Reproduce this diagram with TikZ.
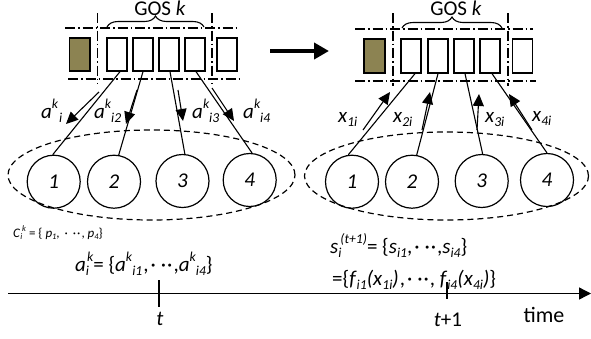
\documentclass[tikz,border=0pt]{standalone}
\usepackage{fontspec}
\setmainfont{Carlito}
\usetikzlibrary{arrows.meta,decorations.pathreplacing,shapes.geometric}
\definecolor{olivec}{RGB}{140,131,82}
\newcommand\mysup[1]{\raisebox{0.45em}{\scalebox{0.65}{#1}}}
\newcommand\mysub[1]{\raisebox{-0.2em}{\scalebox{0.65}{#1}}}
\newcommand\mydots{\kern2pt\textperiodcentered\kern5pt\textperiodcentered\kern1pt\textperiodcentered\kern1pt}
\begin{document}
\begin{tikzpicture}[x=1pt,y=-1pt,
  slot/.style={draw, line width=1.3pt, minimum width=20pt, minimum height=33pt, inner sep=0pt},
  used/.style={slot, fill=olivec},
  guide/.style={line width=1.3pt, dash pattern=on 10pt off 3pt on 1.5pt off 3pt},
  agent/.style={draw, circle, line width=1.2pt, minimum size=53pt, inner sep=0pt, font=\fontsize{21}{24}\selectfont\itshape},
  group/.style={draw, ellipse, line width=1.2pt, dash pattern=on 6pt off 4pt, inner sep=0pt},
  link/.style={line width=1.1pt},
  msg/.style={line width=1.1pt, -{Triangle[length=12pt,width=11pt]}},
  lab/.style={font=\fontsize{21}{24}\selectfont\itshape, inner sep=0pt, anchor=base west},
  gos/.style={font=\fontsize{21}{24}\selectfont, inner sep=0pt},
  brc/.style={decorate, decoration={brace, amplitude=11pt}, line width=1.1pt}
]
\useasboundingbox (0,0) rectangle (591,338);

% ---------- left panel ----------
\node[used, minimum width=20.5pt] (lo) at (79.75,54.5) {};
\node[slot] (l1) at (117,54.5) {};
\node[slot] (l2) at (143,54.5) {};
\node[slot] (l3) at (169,54.5) {};
\node[slot] (l4) at (195,54.5) {};
\node[slot] (l5) at (227,54.5) {};
\coordinate (lv1a) at (97.7,13); \coordinate (lv1b) at (97.7,84);
\coordinate (lv2a) at (212,13); \coordinate (lv2b) at (212,84);
\coordinate (lh1a) at (65,28); \coordinate (lh1b) at (240,28);
\coordinate (lh2a) at (68,79); \coordinate (lh2b) at (243,79);
\draw[guide] (lv1a) -- (lv1b);
\draw[guide] (lv2a) -- (lv2b);
\draw[guide] (lh1a) -- (lh1b);
\draw[guide] (lh2a) -- (lh2b);
\coordinate (lbra) at (107,27); \coordinate (lbrb) at (204,27);
\draw[brc] (lbra) -- (lbrb);
\node[gos] (lgos) at (160,8.5) {GOS \textit{k}};

\node[group, minimum width=287pt, minimum height=90pt] (lg) at (151.5,175) {};
\node[agent] (lc1) at (53.7,181.7) {1};
\node[agent] (lc2) at (114,181.7) {2};
\node[agent] (lc3) at (182.5,181) {3};
\node[agent] (lc4) at (249.7,180) {4};
\draw[link] ([xshift=3pt]l1.south) -- (lc1.92);
\draw[link] (l2.south) -- (lc2.80);
\draw[link] ([xshift=1pt]l3.south) -- (lc3.85);
\draw[link] ([xshift=1pt]l4.south) -- (lc4.85);

\coordinate (la1t) at (99,92);  \coordinate (la1h) at (66,124);
\coordinate (la2t) at (137,90); \coordinate (la2h) at (126,124);
\coordinate (la3t) at (178,90); \coordinate (la3h) at (183,121);
\coordinate (la4t) at (212,88); \coordinate (la4h) at (234,121);
\draw[msg] (la1t) -- (la1h);
\draw[msg] (la2t) -- (la2h);
\draw[msg] (la3t) -- (la3h);
\draw[msg] (la4t) -- (la4h);
\node[lab] (lt1) at (41,118) {a\mysup{k}\kern1pt\mysub{i}};
\node[lab] (lt2) at (94,118) {a\mysup{k}\mysub{i2}};
\node[lab] (lt3) at (192,118) {a\mysup{k}\mysub{i3}};
\node[lab] (lt4) at (243,118) {a\mysup{k}\mysub{i4}};

% ---------- big arrow ----------
\coordinate (bga) at (270,51); \coordinate (bgb) at (329,51);
\draw[line width=4.5pt, -{Triangle[length=15pt,width=16pt]}] (bga) -- (bgb);

% ---------- right panel ----------
\node[used, minimum width=21pt, minimum height=34pt] (ro) at (374.5,56) {};
\node[slot, minimum height=34pt] (r1) at (411,56) {};
\node[slot, minimum height=34pt] (r2) at (438,56) {};
\node[slot, minimum height=34pt] (r3) at (464,56) {};
\node[slot, minimum height=34pt] (r4) at (490,56) {};
\node[slot, minimum height=34pt] (r5) at (522.5,56) {};
\coordinate (rv1a) at (393,13); \coordinate (rv1b) at (393,86);
\coordinate (rv2a) at (508,13); \coordinate (rv2b) at (508,86);
\coordinate (rh1a) at (355,29); \coordinate (rh1b) at (533,29);
\coordinate (rh2a) at (355,81); \coordinate (rh2b) at (536,81);
\draw[guide] (rv1a) -- (rv1b);
\draw[guide] (rv2a) -- (rv2b);
\draw[guide] (rh1a) -- (rh1b);
\draw[guide] (rh2a) -- (rh2b);
\coordinate (rbra) at (402,28); \coordinate (rbrb) at (502,28);
\draw[brc] (rbra) -- (rbrb);
\node[gos] (rgos) at (456,8.5) {GOS \textit{k}};

\node[group, minimum width=284pt, minimum height=88pt] (rg) at (446.5,176) {};
\node[agent] (rc1) at (352,181.7) {1};
\node[agent] (rc2) at (412,181.7) {2};
\node[agent] (rc3) at (481.7,181) {3};
\node[agent] (rc4) at (547,180) {4};
\draw[link] ([xshift=4pt]r1.south) -- (rc1.98);
\draw[link] (r2.south) -- (rc2.80);
\draw[link] ([xshift=1pt]r3.south) -- (rc3.88);
\draw[link] ([xshift=2pt]r4.south) -- (rc4.90);

\coordinate (rx1t) at (363,130); \coordinate (rx1h) at (390,92);
\coordinate (rx2t) at (422,130); \coordinate (rx2h) at (430,92);
\coordinate (rx3t) at (477,130); \coordinate (rx3h) at (479,94);
\coordinate (rx4t) at (532,130); \coordinate (rx4h) at (509,94);
\draw[msg] (rx1t) -- (rx1h);
\draw[msg] (rx2t) -- (rx2h);
\draw[msg] (rx3t) -- (rx3h);
\draw[msg] (rx4t) -- (rx4h);
\node[lab] (rt1) at (338,122) {x\mysub{1i}};
\node[lab] (rt2) at (393,122) {x\mysub{2i}};
\node[lab] (rt3) at (485,122) {x\mysub{3i}};
\node[lab] (rt4) at (532,121) {x\mysub{4i}};

% ---------- formulas ----------
\node[inner sep=0pt, anchor=base west, font=\fontsize{13}{15}\selectfont] (cset) at (13,237)
  {\textit{C}\mysub{\textit{i}}\mysup{\textit{k}} = \{ \textit{p}\mysub{\textit{1}}, \mydots, \textit{p}\mysub{\textit{4}}\}};
\node[lab, font=\fontsize{21}{24}\selectfont] (aset) at (75,271)
  {\textit{a}\mysub{\textit{i}}\kern-0.1em\mysup{\textit{k}}= \{\textit{a}\mysup{\textit{k}}\mysub{\textit{i1}}\kern1pt,\mydots,\textit{a}\mysup{\textit{k}}\mysub{\textit{i4}}\}};
\node[lab, font=\fontsize{21}{24}\selectfont] (sset) at (330,253)
  {\textit{s}\mysub{\textit{i}}\kern-0.05em\mysup{\textit{(t+1)}}= \{\textit{s}\mysub{\textit{i1}},\mydots,\textit{s}\mysub{\textit{i4}}\}};
\node[lab, font=\fontsize{21}{24}\selectfont] (fset) at (332,285)
  {=\{\textit{f}\mysub{\textit{i1}}\textit{(x}\mysub{\textit{1i}}\textit{)}\kern1pt,\mydots, \textit{f}\mysub{\textit{i4}}\textit{(x}\mysub{\textit{4i}}\textit{)}\}};

% ---------- time line ----------
\coordinate (tla) at (8,293.5); \coordinate (tlb) at (591,293.5);
\draw[line width=1.3pt, -{Triangle[length=12pt,width=12pt]}] (tla) -- (tlb);
\coordinate (tk1a) at (159,280); \coordinate (tk1b) at (159,307);
\coordinate (tk2a) at (447,282); \coordinate (tk2b) at (447,299);
\draw[line width=1.3pt] (tk1a) -- (tk1b);
\draw[line width=1.3pt] (tk2a) -- (tk2b);
\node[lab, anchor=base] (tlab1) at (160,325) {t};
\node[lab, anchor=base] (tlab2) at (448,326) {t\textup{+1}};
\node[lab, anchor=base, font=\fontsize{22}{26}\selectfont] (timel) at (544,322) {time};
\end{tikzpicture}
\end{document}
